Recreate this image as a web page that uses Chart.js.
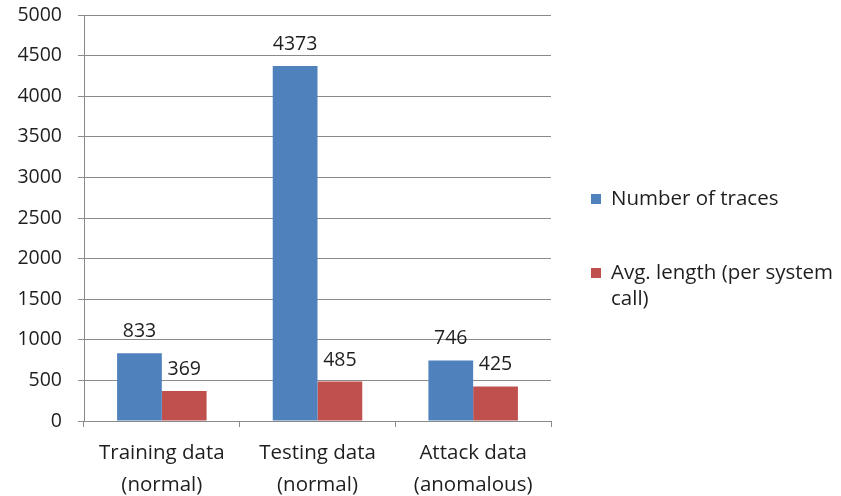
<!DOCTYPE html>
<html>
<head>
<meta charset="utf-8">
<style>
  html, body { margin: 0; padding: 0; background: #ffffff; }
  #wrap { width: 841px; height: 496px; position: relative; }
</style>
<script src="https://cdn.jsdelivr.net/npm/chart.js@4"></script>
</head>
<body>
<div id="wrap"><canvas id="c" width="841" height="496"></canvas></div>
<script>
// Dataset summary: trace counts and average trace length per group
const categories = [
  ['Training data', '(normal)'],
  ['Testing data', '(normal)'],
  ['Attack data', '(anomalous)']
];
const seriesNames = ['Number of traces', ['Avg. length (per system', 'call)']];
const numberOfTraces = [833, 4373, 746];
const avgLength = [369, 485, 425];
const yTicks = [0, 500, 1000, 1500, 2000, 2500, 3000, 3500, 4000, 4500, 5000];

const FONT = '"Open Sans", "DejaVu Sans", sans-serif';
const TEXT = '#1e1e1e';
const GRID = '#8a8a8a';

// Value labels above every bar
const valueLabels = {
  id: 'valueLabels',
  afterDatasetsDraw(chart) {
    const ctx = chart.ctx;
    ctx.save();
    ctx.font = '19.5px ' + FONT;
    ctx.fillStyle = TEXT;
    ctx.textAlign = 'center';
    ctx.textBaseline = 'alphabetic';
    chart.data.datasets.forEach((ds, i) => {
      chart.getDatasetMeta(i).data.forEach((bar, j) => {
        ctx.fillText(String(ds.data[j]), bar.x, bar.y - 16);
      });
    });
    ctx.restore();
  }
};

// Legend on the right, with wrapped entries
const sideLegend = {
  id: 'sideLegend',
  afterDraw(chart) {
    const ctx = chart.ctx;
    const x0 = 591, lineH = 26;
    const rows = [199, 273];
    ctx.save();
    ctx.font = '20.5px ' + FONT;
    ctx.textBaseline = 'middle';
    ctx.textAlign = 'left';
    chart.data.datasets.forEach((ds, i) => {
      const y = rows[i];
      ctx.fillStyle = ds.backgroundColor;
      ctx.fillRect(x0, y - 5, 10, 10);
      ctx.fillStyle = TEXT;
      const lines = Array.isArray(ds.label) ? ds.label : [ds.label];
      lines.forEach((t, k) => {
        ctx.fillText(t, x0 + 20, y + k * lineH);
      });
    });
    ctx.restore();
  }
};

new Chart(document.getElementById('c'), {
  type: 'bar',
  data: {
    labels: categories,
    datasets: [
      { label: seriesNames[0], data: numberOfTraces, backgroundColor: '#4f81bd',
        categoryPercentage: 0.575, barPercentage: 1.0 },
      { label: seriesNames[1], data: avgLength, backgroundColor: '#c0504d',
        categoryPercentage: 0.575, barPercentage: 1.0 }
    ]
  },
  options: {
    responsive: false,
    animation: false,
    devicePixelRatio: 1,
    layout: { padding: { top: 15, right: 290, left: 0, bottom: 0 } },
    plugins: {
      legend: { display: false },
      tooltip: { enabled: false }
    },
    scales: {
      x: {
        offset: true,
        grid: {
          offset: true,
          drawOnChartArea: false,
          drawTicks: true,
          tickLength: 6,
          color: GRID
        },
        border: { color: GRID, width: 1 },
        ticks: {
          color: TEXT,
          font: { family: FONT, size: 20.5, lineHeight: 1.52 },
          padding: 11,
          maxRotation: 0
        },
        afterFit(scale) { scale.height = 75; }
      },
      y: {
        min: 0,
        max: 5000,
        afterBuildTicks(scale) { scale.ticks = yTicks.map(v => ({ value: v })); },
        grid: { color: GRID, tickLength: 6, drawTicks: true },
        border: { color: GRID, width: 1 },
        ticks: {
          color: TEXT,
          font: { family: FONT, size: 19.5 },
          padding: 16,
          callback: (v) => String(v)
        },
        afterFit(scale) {
          scale.width = 84;
          scale.paddingTop = 0;
          scale.paddingBottom = 0;
        }
      }
    }
  },
  plugins: [valueLabels, sideLegend]
});
</script>
</body>
</html>
